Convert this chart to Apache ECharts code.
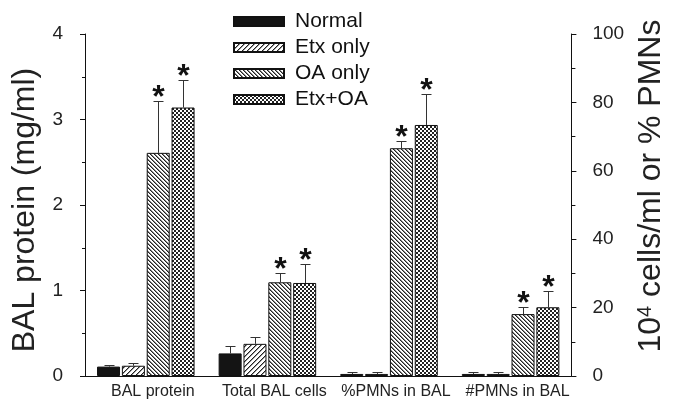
<!DOCTYPE html>
<html><head><meta charset="utf-8">
<script src="https://cdn.jsdelivr.net/npm/echarts@6/dist/echarts.min.js"></script>
<style>html,body{margin:0;padding:0;background:#fff}#c{width:675px;height:402px}</style>
</head><body><div id="c"></div>
<script>
// ---- data ----
const categories = ['BAL protein', 'Total BAL cells', '%PMNs in BAL', '#PMNs in BAL'];
const groups = ['Normal', 'Etx only', 'OA only', 'Etx+OA'];
// BAL protein (mg/ml) — left axis, order: Normal, Etx only, OA only, Etx+OA
const proteinMean = [0.11, 0.12, 2.61, 3.14];
const proteinErr  = [0.02, 0.035, 0.61, 0.32];
const proteinStar = [0, 0, 1, 1];
// right axis (10^4 cells/ml or % PMNs): Total BAL cells, %PMNs in BAL, #PMNs in BAL
const normalMean = [6.6, 0.6, 0.6];
const normalErr  = [2.2, 0.5, 0.5];
const etxMean    = [9.4, 0.6, 0.6];
const etxErr     = [2.1, 0.6, 0.5];
const oaMean     = [27.4, 66.6, 18.1];
const oaErr      = [2.6, 2.0, 2.1];
const etxOaMean  = [27.2, 73.4, 20.1];
const etxOaErr   = [5.5, 9.0, 4.9];
const rightStar  = [[0, 0, 0], [0, 0, 0], [1, 1, 1], [1, 1, 1]];
const leftAxis  = { min: 0, max: 4, interval: 1 };
const rightAxis = { min: 0, max: 100, interval: 20 };

const rightMeans = [normalMean, etxMean, oaMean, etxOaMean];
const rightErrs  = [normalErr, etxErr, oaErr, etxOaErr];

// ---- patterns ----
function makePattern(size, fn) {
  const c = document.createElement('canvas');
  c.width = size; c.height = size;
  const ctx = c.getContext('2d');
  ctx.fillStyle = '#fff'; ctx.fillRect(0, 0, size, size);
  for (let y = 0; y < size; y++) for (let x = 0; x < size; x++) {
    const col = fn(x, y);
    if (col) { ctx.fillStyle = col; ctx.fillRect(x, y, 1, 1); }
  }
  return { image: c, repeat: 'repeat' };
}
const mod = (a, n) => ((a % n) + n) % n;
const fills = [
  '#141414',
  makePattern(5, (x, y) => { const k = mod(x + y, 5); return k === 0 ? '#222' : (k === 1 ? '#999' : null); }),
  makePattern(4, (x, y) => { const k = mod(x - y, 4); return k === 0 ? '#222' : (k === 1 ? '#888' : null); }),
  makePattern(4, (x, y) => (((x >> 1) + (y >> 1)) % 2 === 0) ? '#222' : null)
];

const BAR_W = 23, GAP = '8%', SPACING = 23 * 1.08;
const FONT = "'Liberation Sans', Arial, sans-serif";

const series = [];
groups.forEach((g, t) => {
  const style = { color: fills[t], borderColor: '#111', borderWidth: 1 };
  series.push({
    name: g, type: 'bar', xAxisIndex: 0, yAxisIndex: 0,
    barWidth: BAR_W, barGap: GAP, itemStyle: style,
    data: [proteinMean[t], '-', '-', '-'], animation: false
  });
  series.push({
    name: g, type: 'bar', xAxisIndex: 1, yAxisIndex: 1,
    barWidth: BAR_W, barGap: GAP, itemStyle: style,
    data: ['-'].concat(rightMeans[t]), animation: false
  });
});

function renderErr(params, api) {
  const cat = api.value(0), t = api.value(1), m = api.value(2), e = api.value(3), s = api.value(4);
  const b = api.coord([cat, m]);
  const tp = api.coord([cat, m + e]);
  const x = Math.round(b[0] + (t - 1.5) * SPACING) + 0.5;
  const yt = Math.round(tp[1]) + 0.5;
  const lineStyle = { stroke: '#333', lineWidth: 1 };
  const children = [
    { type: 'line', shape: { x1: x, y1: b[1], x2: x, y2: yt }, style: lineStyle },
    { type: 'line', shape: { x1: x - 5, y1: yt, x2: x + 5, y2: yt }, style: lineStyle }
  ];
  if (s) {
    children.push({ type: 'text', x: x, y: yt - 3,
      style: { text: '*', fill: '#111', font: "bold 32px " + FONT, align: 'center', verticalAlign: 'middle' } });
  }
  return { type: 'group', children };
}

const errLeft = proteinMean.map((m, t) => [0, t, m, proteinErr[t], proteinStar[t]]);
const errRight = [];
for (let c = 0; c < 3; c++) for (let t = 0; t < 4; t++) errRight.push([c + 1, t, rightMeans[t][c], rightErrs[t][c], rightStar[t][c]]);

series.push({ type: 'custom', name: 'errL', xAxisIndex: 0, yAxisIndex: 0, renderItem: renderErr,
  encode: { x: 0, y: 2 }, data: errLeft, z: 5, animation: false, silent: true });
series.push({ type: 'custom', name: 'errR', xAxisIndex: 1, yAxisIndex: 1, renderItem: renderErr,
  encode: { x: 0, y: 2 }, data: errRight, z: 5, animation: false, silent: true });

const axisLineStyle = { show: true, lineStyle: { color: '#111', width: 1 } };

const option = {
  backgroundColor: '#fff',
  animation: false,
  grid: { left: 85, right: 102, top: 34, bottom: 26, containLabel: false },
  legend: {
    data: groups, orient: 'vertical', left: 228, top: 6,
    itemWidth: 50, itemHeight: 9, itemGap: 5, icon: 'rect',
    textStyle: { fontFamily: FONT, fontSize: 21, color: '#111', lineHeight: 21, padding: [0, 0, 0, 6] },
    selectedMode: false
  },
  xAxis: [
    { type: 'category', data: categories, axisLine: axisLineStyle, axisTick: { show: false },
      axisLabel: { fontFamily: FONT, fontSize: 16, color: '#222', margin: 8, padding: [0, 0, 0, 14], interval: 0 } },
    { type: 'category', data: categories, show: false }
  ],
  yAxis: [
    { type: 'value', min: leftAxis.min, max: leftAxis.max, interval: leftAxis.interval, position: 'left',
      name: 'BAL protein (mg/ml)', nameLocation: 'middle', nameGap: 41,
      nameTextStyle: { fontFamily: FONT, fontSize: 32, color: '#222', padding: [0, 10, 0, 0] },
      axisLine: axisLineStyle, axisTick: { show: true, inside: false, length: 5, lineStyle: { color: '#111' } },
      minorTick: { show: true, splitNumber: 2, length: 3, lineStyle: { color: '#111' } },
      splitLine: { show: false },
      axisLabel: { fontFamily: FONT, fontSize: 19, color: '#222', margin: 22 } },
    { type: 'value', min: rightAxis.min, max: rightAxis.max, interval: rightAxis.interval, position: 'right',
      name: '{a|10}{s|4}{a| cells/ml or % PMNs}', nameLocation: 'middle', nameGap: 62,
      nameTextStyle: { fontFamily: FONT, fontSize: 32, color: '#222', padding: [0, 0, 0, 38],
        rich: { a: { fontFamily: FONT, fontSize: 32, color: '#222' }, s: { fontFamily: FONT, fontSize: 20, color: '#222', verticalAlign: 'top' } } },
      axisLine: axisLineStyle, axisTick: { show: true, inside: false, length: 5, lineStyle: { color: '#111' } },
      minorTick: { show: true, splitNumber: 2, length: 4, lineStyle: { color: '#111' } },
      splitLine: { show: false },
      axisLabel: { fontFamily: FONT, fontSize: 19, color: '#222', margin: 21 } }
  ],
  series
};
const chart = echarts.init(document.getElementById('c'), null, { renderer: 'canvas' });
chart.setOption(option);
</script></body></html>
